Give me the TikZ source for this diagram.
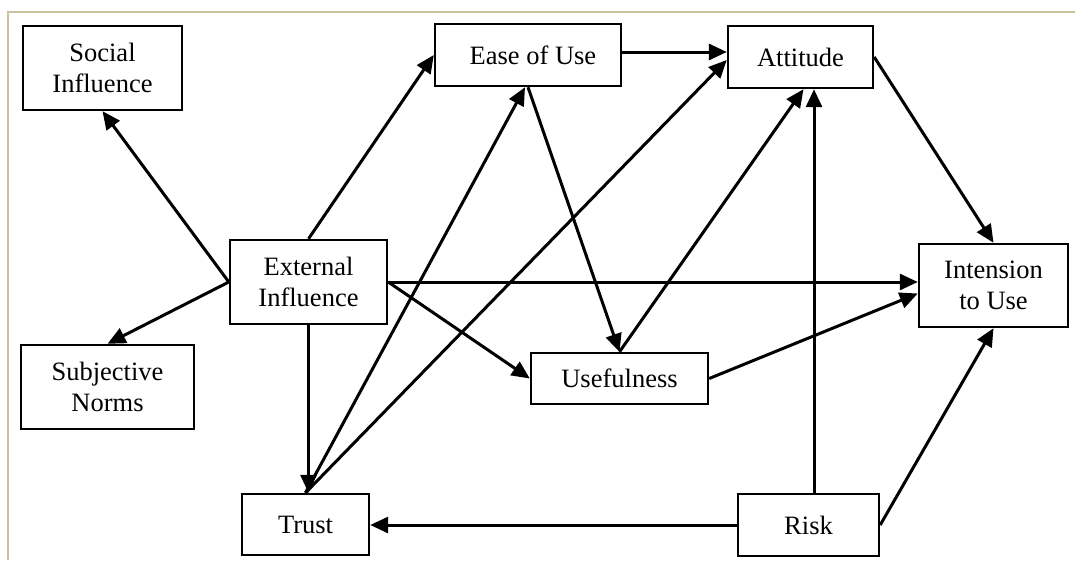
\documentclass[tikz,border=0pt]{standalone}
\usepackage{fontspec}
\setmainfont{Liberation Serif}
\usetikzlibrary{arrows.meta}
\definecolor{frametan}{HTML}{C9C19F}
\begin{document}
\begin{tikzpicture}[x=1pt,y=-1pt,
  box/.style={draw, line width=2.4pt, rectangle, align=center, inner sep=0pt,
    font=\fontsize{26.5}{31}\selectfont},
  link/.style={line width=3pt, -{Triangle[length=18pt,width=16pt]}}]
\useasboundingbox (0,0) rectangle (1075,560);
% page frame
\draw[frametan, line width=2pt] (8,560) -- (8,12) -- (1075,12);

% constructs
\node[box, minimum width=159pt, minimum height=84pt] (social) at (102.5,68) {Social\\Influence};
\node[box, minimum width=186pt, minimum height=62pt] (ease) at (528,55) {\hspace*{10pt}Ease of Use};
\node[box, minimum width=145pt, minimum height=62pt] (att) at (800.5,57) {Attitude};
\node[box, minimum width=157pt, minimum height=84pt] (ext) at (308.5,282) {External\\Influence};
\node[box, minimum width=149pt, minimum height=83pt] (int) at (993.5,285.5) {Intension\\to Use};
\node[box, minimum width=173pt, minimum height=84pt] (subj) at (107.5,387) {Subjective\\Norms};
\node[box, minimum width=177pt, minimum height=51pt] (use) at (619.5,378.5) {Usefulness};
\node[box, minimum width=127pt, minimum height=61pt] (trust) at (305.5,524.5) {Trust};
\node[box, minimum width=141pt, minimum height=62pt] (risk) at (808.5,525) {Risk};

% relations
\draw[link] (ext.west) -- (social.south);
\draw[link] (ext.west) -- (subj.north);
\draw[link] (ext.north) -- (ease.west);
\draw[link] ([yshift=3pt]ease.east) -- ([yshift=3pt]ease.east -| att.west);
\draw[link] (ext.east) -- (ext.east -| int.west);
\draw[link] (ext.east) -- (use.west);
\draw[link] (ext.south) -- (ext.south |- trust.north);
\draw[link] (trust.north) -- ([xshift=-3pt]ease.south);
\draw[link] (trust.north) -- ([yshift=-3pt]att.west);
\draw[link] (ease.south) -- (use.north);
\draw[link] (use.north) -- ([xshift=3pt]att.south);
\draw[link] ([xshift=5.5pt]risk.north) -- ([xshift=5.5pt]risk.north |- att.south);
\draw[link] (att.east) -- (int.north);
\draw[link] (use.east) -- ([yshift=-8pt]int.west);
\draw[link] (risk.east) -- (int.south);
\draw[link] (risk.west) -- (risk.west -| trust.east);
\end{tikzpicture}
\end{document}
